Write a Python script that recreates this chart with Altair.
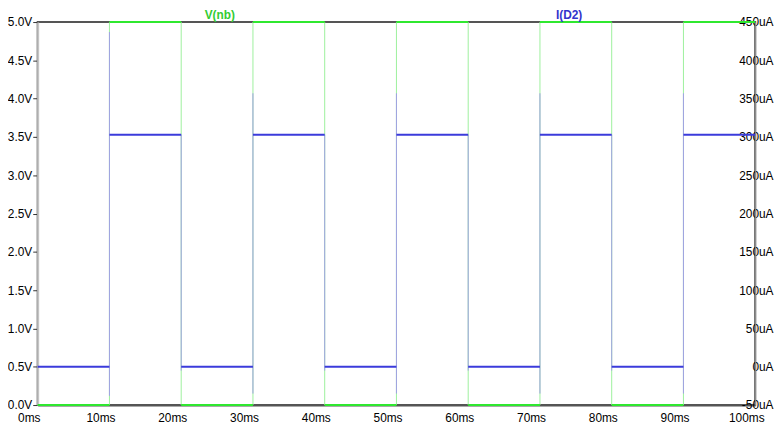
import altair as alt
import pandas as pd

# ---- data ----
seg_start = [0, 10, 20, 30, 40, 50, 60, 70, 80, 90]          # ms
seg_end = [10, 20, 30, 40, 50, 60, 70, 80, 90, 100]          # ms
v_level = [0, 5, 0, 5, 0, 5, 0, 5, 0, 5]                     # V(nb) in V
i_level = [0, 303, 0, 303, 0, 303, 0, 303, 0, 303]           # I(D2) in uA

edge_t = [10, 20, 30, 40, 50, 60, 70, 80, 90]                # ms
v_edge_lo = [0, 0, 0, 0, 0, 0, 0, 0, 0]
v_edge_hi = [5, 5, 5, 5, 5, 5, 5, 5, 5]
i_edge_lo = [-38, -5, -35, -5, -35, -5, -35, -5, -35]
i_edge_hi = [437, 303, 357, 303, 357, 303, 357, 303, 357]

x_ticks = [0, 10, 20, 30, 40, 50, 60, 70, 80, 90, 100]
v_ticks = [0, 0.5, 1, 1.5, 2, 2.5, 3, 3.5, 4, 4.5, 5]
i_ticks = [-50, 0, 50, 100, 150, 200, 250, 300, 350, 400, 450]
series_names = ["V(nb)", "I(D2)"]

seg = pd.DataFrame({"t0": seg_start, "t1": seg_end, "v": v_level, "i": i_level})
edges = pd.DataFrame({"t": edge_t, "vlo": v_edge_lo, "vhi": v_edge_hi,
                      "ilo": i_edge_lo, "ihi": i_edge_hi})

FONT = "Liberation Sans"
FS = 12
GREEN = "#2fe82f"
GREEN_V = "#9df09d"
BLUE = "#3b3bdb"
BLUE_V = "#a0a0e4"

xscale = alt.Scale(domain=[0, 100], nice=False, zero=False)
vscale = alt.Scale(domain=[0, 5], nice=False, zero=False)
iscale = alt.Scale(domain=[-50, 450], nice=False, zero=False)

xaxis = alt.Axis(values=x_ticks, labelExpr="datum.value + 'ms'", title=None,
                 tickSize=0, labelPadding=8, labelOffset=-9, domainColor="#555555", domainWidth=2,
                 labelFont=FONT, labelFontSize=FS, labelColor="#000000", grid=False,
                 labelFlush=False, labelOverlap=False)
vaxis = alt.Axis(values=v_ticks, labelExpr="format(datum.value, '.1f') + 'V'", title=None,
                 tickSize=5, tickColor="#333333", labelPadding=1, domainColor="#c4c4c4",
                 domainWidth=2, labelFont=FONT, labelFontSize=FS, labelColor="#000000",
                 grid=False, orient="left", labelOverlap=False, labelFlush=False)
iaxis = alt.Axis(values=i_ticks, labelExpr="datum.value + 'uA'", title=None,
                 tickSize=0, ticks=False, labelPadding=18, labelAlign="right",
                 domainColor="#9a9a9a", domainWidth=1, labelFont=FONT, labelFontSize=FS,
                 labelColor="#000000", grid=False, orient="right", labelOverlap=False,
                 labelFlush=False)

green_v = alt.Chart(edges).mark_rule(color=GREEN_V, strokeWidth=1).encode(
    x=alt.X("t:Q", scale=xscale, axis=xaxis),
    y=alt.Y("vlo:Q", scale=vscale, axis=vaxis),
    y2="vhi:Q",
)
green_h = alt.Chart(seg).mark_rule(color=GREEN, strokeWidth=2).encode(
    x=alt.X("t0:Q", scale=xscale, axis=xaxis),
    x2="t1:Q",
    y=alt.Y("v:Q", scale=vscale, axis=vaxis),
)
blue_v = alt.Chart(edges).mark_rule(color=BLUE_V, strokeWidth=1).encode(
    x=alt.X("t:Q", scale=xscale, axis=xaxis),
    y=alt.Y("ilo:Q", scale=iscale, axis=iaxis),
    y2="ihi:Q",
)
blue_h = alt.Chart(seg).mark_rule(color=BLUE, strokeWidth=2).encode(
    x=alt.X("t0:Q", scale=xscale, axis=xaxis),
    x2="t1:Q",
    y=alt.Y("i:Q", scale=iscale, axis=iaxis),
)

green = alt.layer(green_v, green_h)
blue = alt.layer(blue_v, blue_h)

t_v = alt.Chart(pd.DataFrame({"name": [series_names[0]]})).mark_text(
    font=FONT, fontSize=FS, fontWeight="bold", color="#33cc33", baseline="alphabetic"
).encode(text="name:N", x=alt.value(184), y=alt.value(-3))
t_i = alt.Chart(pd.DataFrame({"name": [series_names[1]]})).mark_text(
    font=FONT, fontSize=FS, fontWeight="bold", color="#3333cc", baseline="alphabetic"
).encode(text="name:N", x=alt.value(537), y=alt.value(-3))

chart = alt.layer(green, blue, t_v, t_i).resolve_scale(y="independent").properties(
    width=725, height=387,
    autosize=alt.AutoSizeParams(type="none"),
    padding={"left": 30, "top": 12, "right": 19, "bottom": 20},
    background="#ffffff",
).configure_view(stroke="#555555", strokeWidth=2)

chart.save("out.html", embed_options={"renderer": "svg", "actions": False})
